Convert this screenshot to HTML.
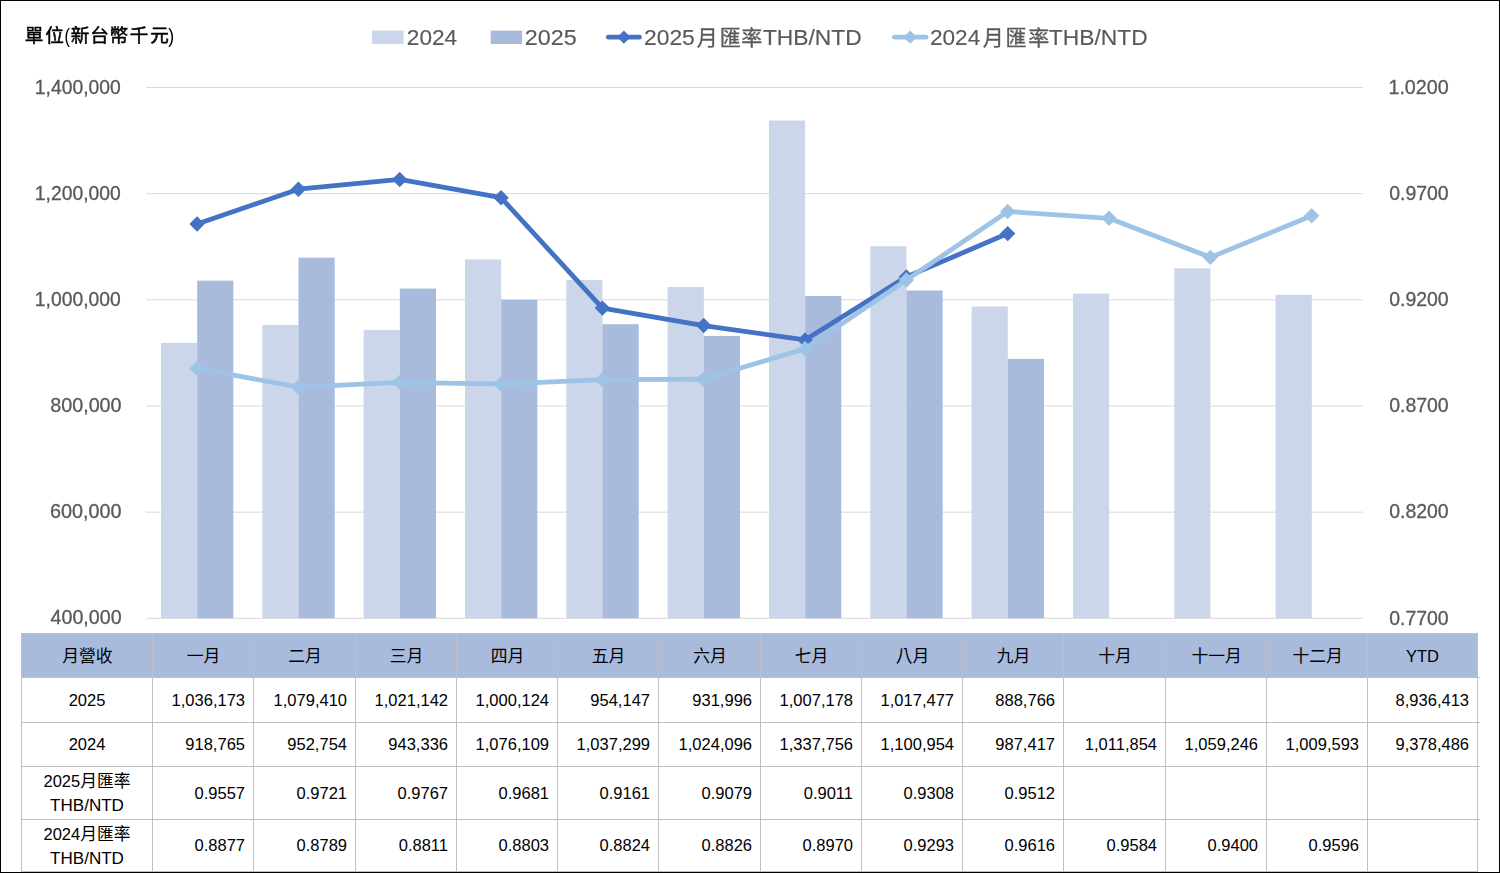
<!DOCTYPE html>
<html lang="zh-Hant"><head><meta charset="utf-8"><title>月營收</title>
<style>html,body{margin:0;padding:0;background:#fff;}body{width:1500px;height:873px;overflow:hidden;font-family:"Liberation Sans",sans-serif;}svg{display:block;}.cjk{font-family:"Liberation Sans","Noto Sans CJK TC",sans-serif;}</style>
</head><body>
<svg width="1500" height="873" viewBox="0 0 1500 873" role="img" aria-label="Monthly revenue 2024 vs 2025 with THB/NTD exchange rate" font-family="'Liberation Sans', sans-serif">
<defs>
<filter id="nf" x="0" y="0" width="100%" height="100%" filterUnits="userSpaceOnUse" color-interpolation-filters="sRGB"><feOffset dx="0" dy="0"/></filter>
</defs>
<rect x="0" y="0" width="1500" height="873" fill="#fff"/>
<g fill="#D9D9D9">
<rect x="146" y="87.00" width="1217" height="1"/>
<rect x="146" y="193.16" width="1217" height="1"/>
<rect x="146" y="299.32" width="1217" height="1"/>
<rect x="146" y="405.48" width="1217" height="1"/>
<rect x="146" y="511.64" width="1217" height="1"/>
<rect x="146" y="617.80" width="1217" height="1"/>
</g>
<g font-size="19.3" fill="#595959" stroke="#595959" stroke-width="0.3" filter="url(#nf)">
<text transform="translate(34.83 93.60) scale(1.002 1.0)" font-size="19.3">1,400,000</text>
<text transform="translate(1388.40 93.85) scale(1.0228 1.0)" font-size="19.3">1.0200</text>
<text transform="translate(34.83 199.76) scale(1.002 1.0)" font-size="19.3">1,200,000</text>
<text transform="translate(1389.14 200.01) scale(1.01 1.0)" font-size="19.3">0.9700</text>
<text transform="translate(34.83 305.92) scale(1.002 1.0)" font-size="19.3">1,000,000</text>
<text transform="translate(1389.14 306.17) scale(1.01 1.0)" font-size="19.3">0.9200</text>
<text transform="translate(50.14 412.08) scale(1.0253 1.0)" font-size="19.3">800,000</text>
<text transform="translate(1389.14 412.33) scale(1.01 1.0)" font-size="19.3">0.8700</text>
<text transform="translate(49.99 518.24) scale(1.0275 1.0)" font-size="19.3">600,000</text>
<text transform="translate(1389.14 518.49) scale(1.01 1.0)" font-size="19.3">0.8200</text>
<text transform="translate(50.55 624.40) scale(1.0194 1.0)" font-size="19.3">400,000</text>
<text transform="translate(1389.14 624.65) scale(1.01 1.0)" font-size="19.3">0.7700</text>
</g>
<g fill="#CCD6EA">
<rect x="160.98" y="342.94" width="36.19" height="275.36"/>
<rect x="262.31" y="324.90" width="36.19" height="293.40"/>
<rect x="363.64" y="329.90" width="36.19" height="288.40"/>
<rect x="464.97" y="259.42" width="36.19" height="358.88"/>
<rect x="566.30" y="280.02" width="36.19" height="338.28"/>
<rect x="667.63" y="287.03" width="36.19" height="331.27"/>
<rect x="768.96" y="120.54" width="36.19" height="497.76"/>
<rect x="870.29" y="246.23" width="36.19" height="372.07"/>
<rect x="971.62" y="306.50" width="36.19" height="311.80"/>
<rect x="1072.95" y="293.53" width="36.19" height="324.77"/>
<rect x="1174.28" y="268.37" width="36.19" height="349.93"/>
<rect x="1275.61" y="294.73" width="36.19" height="323.57"/>
</g>
<g fill="#A9BBDD">
<rect x="197.16" y="280.62" width="36.19" height="337.68"/>
<rect x="298.50" y="257.67" width="36.19" height="360.63"/>
<rect x="399.82" y="288.60" width="36.19" height="329.70"/>
<rect x="501.16" y="299.75" width="36.19" height="318.55"/>
<rect x="602.48" y="324.16" width="36.19" height="294.14"/>
<rect x="703.81" y="335.92" width="36.19" height="282.38"/>
<rect x="805.14" y="296.01" width="36.19" height="322.29"/>
<rect x="906.47" y="290.54" width="36.19" height="327.76"/>
<rect x="1007.80" y="358.86" width="36.19" height="259.44"/>
</g>
<path d="M197.06 224.02 L298.39 189.20 L399.72 179.43 L501.05 197.69 L602.38 308.10 L703.71 325.51 L805.04 339.95 L906.38 276.89 L1007.70 233.58" fill="none" stroke="#4472C4" stroke-width="4.8" stroke-linejoin="round" stroke-linecap="round"/><path d="M189.37 224.02L197.06 216.32L204.76 224.02L197.06 231.72Z" fill="#4472C4"/><path d="M290.69 189.20L298.39 181.50L306.09 189.20L298.39 196.90Z" fill="#4472C4"/><path d="M392.02 179.43L399.72 171.73L407.42 179.43L399.72 187.13Z" fill="#4472C4"/><path d="M493.35 197.69L501.05 189.99L508.75 197.69L501.05 205.39Z" fill="#4472C4"/><path d="M594.68 308.10L602.38 300.40L610.09 308.10L602.38 315.80Z" fill="#4472C4"/><path d="M696.01 325.51L703.71 317.81L711.41 325.51L703.71 333.21Z" fill="#4472C4"/><path d="M797.34 339.95L805.04 332.25L812.75 339.95L805.04 347.65Z" fill="#4472C4"/><path d="M898.67 276.89L906.38 269.19L914.08 276.89L906.38 284.59Z" fill="#4472C4"/><path d="M1000.00 233.58L1007.70 225.88L1015.40 233.58L1007.70 241.28Z" fill="#4472C4"/>
<path d="M197.06 368.40 L298.39 387.08 L399.72 382.41 L501.05 384.11 L602.38 379.65 L703.71 379.23 L805.04 348.65 L906.38 280.07 L1007.70 211.49 L1109.04 218.29 L1210.37 257.36 L1311.70 215.74" fill="none" stroke="#9DC3E6" stroke-width="4.8" stroke-linejoin="round" stroke-linecap="round"/><path d="M189.37 368.40L197.06 360.70L204.76 368.40L197.06 376.10Z" fill="#9DC3E6"/><path d="M290.69 387.08L298.39 379.38L306.09 387.08L298.39 394.78Z" fill="#9DC3E6"/><path d="M392.02 382.41L399.72 374.71L407.42 382.41L399.72 390.11Z" fill="#9DC3E6"/><path d="M493.35 384.11L501.05 376.41L508.75 384.11L501.05 391.81Z" fill="#9DC3E6"/><path d="M594.68 379.65L602.38 371.95L610.09 379.65L602.38 387.35Z" fill="#9DC3E6"/><path d="M696.01 379.23L703.71 371.53L711.41 379.23L703.71 386.93Z" fill="#9DC3E6"/><path d="M797.34 348.65L805.04 340.95L812.75 348.65L805.04 356.35Z" fill="#9DC3E6"/><path d="M898.67 280.07L906.38 272.37L914.08 280.07L906.38 287.77Z" fill="#9DC3E6"/><path d="M1000.00 211.49L1007.70 203.79L1015.40 211.49L1007.70 219.19Z" fill="#9DC3E6"/><path d="M1101.34 218.29L1109.04 210.59L1116.74 218.29L1109.04 225.99Z" fill="#9DC3E6"/><path d="M1202.66 257.36L1210.37 249.66L1218.07 257.36L1210.37 265.06Z" fill="#9DC3E6"/><path d="M1304.00 215.74L1311.70 208.04L1319.40 215.74L1311.70 223.44Z" fill="#9DC3E6"/>
<g filter="url(#nf)"><text class="cjk" x="24.67 45.27" y="42.1" font-size="18.6" fill="#000" stroke="#000" stroke-width="0.5">單位</text><text class="cjk" x="70.86 90.23 109.49 129.82 150.30" y="42.1" font-size="18.6" fill="#000" stroke="#000" stroke-width="0.5">新台幣千元</text><text transform="translate(64.39 42.60) scale(0.8275 1.0)" font-size="19.6" fill="#000">(</text><text transform="translate(168.20 42.60) scale(0.9044 1.0)" font-size="19.6" fill="#000">)</text></g>
<g filter="url(#nf)"><rect x="372" y="30.6" width="31.6" height="13.4" fill="#CCD6EA"/><rect x="490.7" y="30.6" width="31.4" height="13.4" fill="#A9BBDD"/><path d="M608.40 37.2H639.40" stroke="#4472C4" stroke-width="4.8" stroke-linecap="round"/><path d="M617.3 37.2L623.9 30.6L630.5 37.2L623.9 43.800000000000004Z" fill="#4472C4"/><text class="cjk" x="696.63 719.67 741.26" y="44.8" font-size="21" fill="#595959" stroke="#595959" stroke-width="0.35">月匯率</text><path d="M894.40 37.2H926.00" stroke="#9DC3E6" stroke-width="4.8" stroke-linecap="round"/><path d="M903.6 37.2L910.2 30.6L916.8000000000001 37.2L910.2 43.800000000000004Z" fill="#9DC3E6"/><text class="cjk" x="982.74 1005.46 1028.14" y="44.8" font-size="21" fill="#595959" stroke="#595959" stroke-width="0.35">月匯率</text><g stroke="#595959" stroke-width="0.15"><text transform="translate(406.86 44.50) scale(1.0094 1.0)" font-size="22.4" fill="#595959">2024</text><text transform="translate(524.73 44.50) scale(1.0426 1.0)" font-size="22.4" fill="#595959">2025</text><text transform="translate(643.95 44.50) scale(1.0217 1.0)" font-size="22.4" fill="#595959">2025</text><text transform="translate(762.89 44.50) scale(1.019 1.0)" font-size="22.4" fill="#595959">THB/NTD</text><text transform="translate(929.96 44.50) scale(1.0094 1.0)" font-size="22.4" fill="#595959">2024</text><text transform="translate(1048.79 44.50) scale(1.0201 1.0)" font-size="22.4" fill="#595959">THB/NTD</text></g></g>
<g fill="#000"><rect x="21" y="633" width="1457" height="44" fill="#A9BBDD"/><g fill="#BFBFBF" shape-rendering="crispEdges"><rect x="21" y="633" width="1457" height="1"/><rect x="21" y="677" width="1459" height="1"/><rect x="21" y="722" width="1459" height="1"/><rect x="21" y="766" width="1459" height="1"/><rect x="21" y="819" width="1459" height="1"/><rect x="21" y="871" width="1457" height="1"/><rect x="21" y="633" width="1" height="239"/><rect x="152" y="633" width="1" height="239"/><rect x="253" y="633" width="1" height="239"/><rect x="355" y="633" width="1" height="239"/><rect x="456" y="633" width="1" height="239"/><rect x="557" y="633" width="1" height="239"/><rect x="658" y="633" width="1" height="239"/><rect x="760" y="633" width="1" height="239"/><rect x="861" y="633" width="1" height="239"/><rect x="962" y="633" width="1" height="239"/><rect x="1063" y="633" width="1" height="239"/><rect x="1165" y="633" width="1" height="239"/><rect x="1266" y="633" width="1" height="239"/><rect x="1367" y="633" width="1" height="239"/><rect x="1477" y="633" width="1" height="239"/></g><g class="cjk" font-size="16.8" fill="#000"><text x="62.20 79.00 95.80" y="661.8">月營收</text><text x="186.80 203.60" y="661.8">一月</text><text x="288.30 305.10" y="661.8">二月</text><text x="389.80 406.60" y="661.8">三月</text><text x="490.80 507.60" y="661.8">四月</text><text x="591.80 608.60" y="661.8">五月</text><text x="693.30 710.10" y="661.8">六月</text><text x="794.80 811.60" y="661.8">七月</text><text x="895.80 912.60" y="661.8">八月</text><text x="996.80 1013.60" y="661.8">九月</text><text x="1098.30 1115.10" y="661.8">十月</text><text x="1191.40 1208.20 1225.00" y="661.8">十一月</text><text x="1292.40 1309.20 1326.00" y="661.8">十二月</text></g><text transform="translate(1422.50 661.70) scale(1.0 1.0)" font-size="16.5" text-anchor="middle">YTD</text><text transform="translate(87.00 705.90) scale(1.0 1.0)" font-size="16.5" text-anchor="middle">2025</text><text transform="translate(87.00 750.10) scale(1.0 1.0)" font-size="16.5" text-anchor="middle">2024</text><text transform="translate(43.45 787.00) scale(1.0 1.0)" font-size="16.5" fill="#000">2025</text><text class="cjk" x="80.15 96.95 113.75" y="787.4" font-size="16.8" fill="#000">月匯率</text><text transform="translate(87.00 811.40) scale(1.034 1.0)" font-size="16.5" text-anchor="middle">THB/NTD</text><text transform="translate(43.45 839.50) scale(1.0 1.0)" font-size="16.5" fill="#000">2024</text><text class="cjk" x="80.15 96.95 113.75" y="839.9" font-size="16.8" fill="#000">月匯率</text><text transform="translate(87.00 863.90) scale(1.034 1.0)" font-size="16.5" text-anchor="middle">THB/NTD</text><text transform="translate(245.00 705.90) scale(1.0 1.0)" font-size="16.5" text-anchor="end">1,036,173</text><text transform="translate(347.00 705.90) scale(1.0 1.0)" font-size="16.5" text-anchor="end">1,079,410</text><text transform="translate(448.00 705.90) scale(1.0 1.0)" font-size="16.5" text-anchor="end">1,021,142</text><text transform="translate(549.00 705.90) scale(1.0 1.0)" font-size="16.5" text-anchor="end">1,000,124</text><text transform="translate(650.00 705.90) scale(1.0 1.0)" font-size="16.5" text-anchor="end">954,147</text><text transform="translate(752.00 705.90) scale(1.0 1.0)" font-size="16.5" text-anchor="end">931,996</text><text transform="translate(853.00 705.90) scale(1.0 1.0)" font-size="16.5" text-anchor="end">1,007,178</text><text transform="translate(954.00 705.90) scale(1.0 1.0)" font-size="16.5" text-anchor="end">1,017,477</text><text transform="translate(1055.00 705.90) scale(1.0 1.0)" font-size="16.5" text-anchor="end">888,766</text><text transform="translate(245.00 750.10) scale(1.0 1.0)" font-size="16.5" text-anchor="end">918,765</text><text transform="translate(347.00 750.10) scale(1.0 1.0)" font-size="16.5" text-anchor="end">952,754</text><text transform="translate(448.00 750.10) scale(1.0 1.0)" font-size="16.5" text-anchor="end">943,336</text><text transform="translate(549.00 750.10) scale(1.0 1.0)" font-size="16.5" text-anchor="end">1,076,109</text><text transform="translate(650.00 750.10) scale(1.0 1.0)" font-size="16.5" text-anchor="end">1,037,299</text><text transform="translate(752.00 750.10) scale(1.0 1.0)" font-size="16.5" text-anchor="end">1,024,096</text><text transform="translate(853.00 750.10) scale(1.0 1.0)" font-size="16.5" text-anchor="end">1,337,756</text><text transform="translate(954.00 750.10) scale(1.0 1.0)" font-size="16.5" text-anchor="end">1,100,954</text><text transform="translate(1055.00 750.10) scale(1.0 1.0)" font-size="16.5" text-anchor="end">987,417</text><text transform="translate(1157.00 750.10) scale(1.0 1.0)" font-size="16.5" text-anchor="end">1,011,854</text><text transform="translate(1258.00 750.10) scale(1.0 1.0)" font-size="16.5" text-anchor="end">1,059,246</text><text transform="translate(1359.00 750.10) scale(1.0 1.0)" font-size="16.5" text-anchor="end">1,009,593</text><text transform="translate(245.00 799.30) scale(1.0 1.0)" font-size="16.5" text-anchor="end">0.9557</text><text transform="translate(347.00 799.30) scale(1.0 1.0)" font-size="16.5" text-anchor="end">0.9721</text><text transform="translate(448.00 799.30) scale(1.0 1.0)" font-size="16.5" text-anchor="end">0.9767</text><text transform="translate(549.00 799.30) scale(1.0 1.0)" font-size="16.5" text-anchor="end">0.9681</text><text transform="translate(650.00 799.30) scale(1.0 1.0)" font-size="16.5" text-anchor="end">0.9161</text><text transform="translate(752.00 799.30) scale(1.0 1.0)" font-size="16.5" text-anchor="end">0.9079</text><text transform="translate(853.00 799.30) scale(1.0 1.0)" font-size="16.5" text-anchor="end">0.9011</text><text transform="translate(954.00 799.30) scale(1.0 1.0)" font-size="16.5" text-anchor="end">0.9308</text><text transform="translate(1055.00 799.30) scale(1.0 1.0)" font-size="16.5" text-anchor="end">0.9512</text><text transform="translate(245.00 850.80) scale(1.0 1.0)" font-size="16.5" text-anchor="end">0.8877</text><text transform="translate(347.00 850.80) scale(1.0 1.0)" font-size="16.5" text-anchor="end">0.8789</text><text transform="translate(448.00 850.80) scale(1.0 1.0)" font-size="16.5" text-anchor="end">0.8811</text><text transform="translate(549.00 850.80) scale(1.0 1.0)" font-size="16.5" text-anchor="end">0.8803</text><text transform="translate(650.00 850.80) scale(1.0 1.0)" font-size="16.5" text-anchor="end">0.8824</text><text transform="translate(752.00 850.80) scale(1.0 1.0)" font-size="16.5" text-anchor="end">0.8826</text><text transform="translate(853.00 850.80) scale(1.0 1.0)" font-size="16.5" text-anchor="end">0.8970</text><text transform="translate(954.00 850.80) scale(1.0 1.0)" font-size="16.5" text-anchor="end">0.9293</text><text transform="translate(1055.00 850.80) scale(1.0 1.0)" font-size="16.5" text-anchor="end">0.9616</text><text transform="translate(1157.00 850.80) scale(1.0 1.0)" font-size="16.5" text-anchor="end">0.9584</text><text transform="translate(1258.00 850.80) scale(1.0 1.0)" font-size="16.5" text-anchor="end">0.9400</text><text transform="translate(1359.00 850.80) scale(1.0 1.0)" font-size="16.5" text-anchor="end">0.9596</text><text transform="translate(1469.00 705.90) scale(1.0 1.0)" font-size="16.5" text-anchor="end">8,936,413</text><text transform="translate(1469.00 750.10) scale(1.0 1.0)" font-size="16.5" text-anchor="end">9,378,486</text></g>
<path d="M0 0H1500V873H0ZM1 1V872H1499V1Z" fill="#000" fill-rule="evenodd" shape-rendering="crispEdges"/>
</svg>
</body></html>
